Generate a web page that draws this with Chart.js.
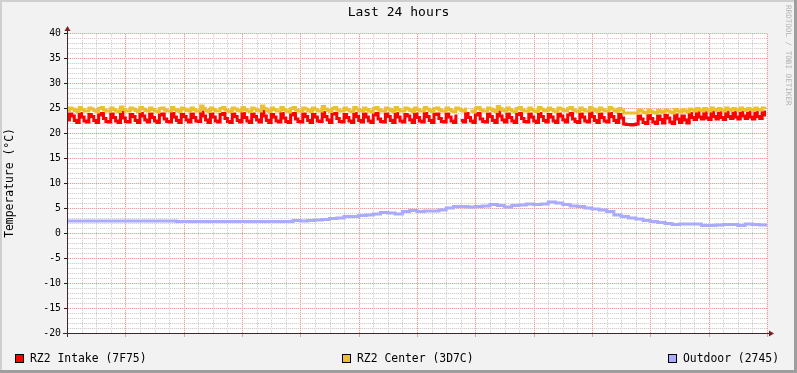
<!DOCTYPE html>
<html><head><meta charset="utf-8">
<script src="https://cdn.jsdelivr.net/npm/chart.js@4.4.0/dist/chart.umd.min.js"></script>
<style>html,body{margin:0;padding:0;background:#F2F2F2;}canvas{display:block;}</style>
</head><body>
<canvas id="c" width="797" height="373"></canvas>
<script>
// ---------- data ----------
const chartTitle = 'Last 24 hours';
const yAxisTitle = 'Temperature (°C)';
const watermark = 'RRDTOOL / TOBI OETIKER';
const seriesNames = ['RZ2 Intake (7F75)', 'RZ2 Center (3D7C)', 'Outdoor (2745)'];
const xTickHours = [0, 6, 12, 18];
const xTickLabels = ['Sat 00:00', 'Sat 06:00', 'Sat 12:00', 'Sat 18:00'];
const xMinorHours = 0.5, xMajorHours = 2;
const yMin = -20, yMax = 40, yMinorStep = 1, yLabelEvery = 5;
const sampleMinutes = 5;      // RZ2 sensors
const outdoorMinutes = 15;    // outdoor sensor

const intake = [
 22.6,23.8,23.4,22.5,22.1,23.9,23.2,22.4,22.2,23.7,23.3,22.5,
 22.1,23.6,23.9,22.9,22.3,22.2,23.8,23.1,22.4,22.1,24.1,23.0,
 22.3,22.2,23.7,23.3,22.5,22.1,23.9,23.4,22.6,22.2,23.8,23.1,
 22.4,22.1,23.6,23.8,22.8,22.3,22.2,23.9,23.2,22.5,22.1,23.7,
 23.3,22.6,22.2,23.8,23.1,22.4,22.3,24.2,23.4,22.6,22.1,23.8,
 23.2,22.4,22.2,23.7,23.9,22.9,22.3,22.1,23.8,23.3,22.5,22.2,
 23.9,23.1,22.4,22.1,23.8,23.3,22.6,22.2,24.3,23.4,22.5,22.1,
 23.7,23.2,22.4,22.2,23.9,23.0,22.3,22.1,23.6,23.9,22.8,22.3,
 22.2,23.8,23.3,22.5,22.1,23.7,23.2,22.4,22.3,24.1,23.3,22.6,
 22.1,23.8,23.9,22.9,22.3,22.2,23.7,23.1,22.4,22.1,23.9,23.3,
 22.5,22.2,23.8,23.2,22.4,22.1,23.6,23.9,22.8,22.3,22.2,23.8,
 23.3,22.5,22.1,23.9,23.2,22.4,22.2,23.7,23.4,22.6,22.1,23.8,
 23.1,22.4,22.2,23.9,23.3,22.5,22.1,23.7,23.8,22.9,22.3,22.2,
 23.8,23.2,22.4,22.1,23.7,null,22.5,22.2,23.9,23.1,22.4,22.1,
 23.6,23.9,22.8,22.3,22.2,23.8,23.3,22.5,22.1,24.2,23.4,22.6,
 22.2,23.8,23.1,22.4,22.1,23.7,23.9,22.9,22.3,22.2,23.8,23.2,
 22.4,22.1,23.9,23.3,22.5,22.2,23.7,23.2,22.4,22.1,23.8,23.4,
 22.6,22.2,23.6,23.9,22.8,22.3,22.1,23.8,23.2,22.4,22.2,24.0,
 23.3,22.5,22.1,23.8,23.1,22.4,22.2,23.9,23.3,22.5,22.1,23.7,
 23.0,21.8,21.7,21.7,21.6,21.7,21.8,23.4,22.8,22.1,21.9,23.5,
 22.9,22.2,21.9,23.4,22.7,22.0,23.5,23.0,22.2,21.9,23.6,22.8,
 22.1,23.4,22.6,22.0,23.9,23.1,22.7,24.2,23.2,22.8,24.1,23.0,
 22.7,24.3,23.3,22.8,24.2,23.1,22.7,24.4,23.3,22.9,24.2,23.2,
 22.8,24.3,23.4,22.9,24.1,23.2,22.8,24.3,23.3,22.9,24.2,23.3
];

const center = [
 24.5,25.0,24.8,24.5,24.3,25.1,24.7,24.4,24.4,25.0,24.8,24.5,
 24.3,24.9,25.1,24.6,24.4,24.4,25.0,24.7,24.4,24.3,25.2,24.7,
 24.4,24.4,25.0,24.8,24.5,24.3,25.1,24.8,24.5,24.4,25.0,24.7,
 24.4,24.3,24.9,25.0,24.6,24.4,24.4,25.1,24.7,24.5,24.3,25.0,
 24.8,24.5,24.4,25.0,24.7,24.4,24.4,25.4,24.9,24.5,24.3,25.0,
 24.7,24.4,24.4,24.9,25.1,24.6,24.4,24.3,25.0,24.8,24.5,24.4,
 25.1,24.7,24.4,24.3,25.0,24.8,24.5,24.4,25.4,24.9,24.5,24.3,
 25.0,24.7,24.4,24.4,25.1,24.7,24.4,24.3,24.9,25.1,24.6,24.4,
 24.4,25.0,24.8,24.5,24.3,25.0,24.7,24.4,24.4,25.3,24.8,24.5,
 24.3,24.9,25.1,24.6,24.4,24.4,25.0,24.7,24.4,24.3,25.1,24.8,
 24.5,24.4,25.0,24.7,24.4,24.3,24.9,25.1,24.6,24.4,24.4,25.0,
 24.8,24.5,24.3,25.1,24.7,24.4,24.4,25.0,24.8,24.5,24.3,25.0,
 24.7,24.4,24.4,25.1,24.8,24.5,24.3,24.9,25.0,24.6,24.4,24.4,
 25.0,24.7,24.4,24.3,25.0,24.8,24.5,24.4,25.1,null,24.4,24.3,
 24.9,25.1,24.6,24.4,24.4,25.0,24.8,24.5,24.3,25.3,24.9,24.5,
 24.4,25.0,24.7,24.4,24.3,24.9,25.1,24.6,24.4,24.4,25.0,24.7,
 24.4,24.3,25.1,24.8,24.5,24.4,25.0,24.7,24.4,24.3,25.0,24.8,
 24.5,24.4,24.9,25.1,24.6,24.4,24.3,25.0,24.7,24.4,24.4,25.1,
 24.8,24.5,24.3,25.0,24.7,24.4,24.4,25.1,24.8,24.5,24.3,24.9,
 24.6,24.0,24.0,24.0,24.0,24.0,24.0,24.6,24.4,24.1,24.0,24.6,
 24.3,24.1,24.0,24.5,24.3,24.1,24.6,24.4,24.2,24.0,24.7,24.4,
 24.2,24.6,24.4,24.2,24.8,24.6,24.4,24.9,24.6,24.4,24.9,24.6,
 24.4,25.0,24.7,24.5,24.9,24.6,24.4,25.0,24.7,24.5,24.9,24.7,
 24.5,25.0,24.7,24.5,24.9,24.7,24.5,25.0,24.7,24.6,25.0,24.8
];

const outdoor = [
 2.4,2.4,2.4,2.4,2.4,2.4,2.4,2.4,2.4,2.4,2.4,2.4,2.4,2.4,2.4,
 2.3,2.3,2.3,2.3,2.3,2.3,2.3,2.3,2.3,2.3,2.3,2.3,2.3,2.3,2.3,2.3,
 2.5,2.4,2.5,2.6,2.7,2.9,3.0,3.3,3.3,3.5,3.6,3.8,4.1,4.0,3.8,4.3,
 4.5,4.3,4.4,4.4,4.6,5.0,5.3,5.3,5.2,5.3,5.4,5.7,5.5,5.2,5.5,5.6,
 5.8,5.7,5.8,6.2,6.0,5.7,5.4,5.3,5.0,4.8,4.6,4.3,3.6,3.3,3.0,2.8,
 2.5,2.3,2.1,1.9,1.7,1.8,1.8,1.8,1.5,1.5,1.6,1.7,1.7,1.5,1.8,1.7,
 1.6,1.5
];

// ---------- style ----------
const FONT = "'DejaVu Sans Mono', monospace";
const COLORS = ['#FF0000', '#EAC22E', '#AAAAFF'];
// dotted grid: [dot colour, gap colour]
const GRID = ['#D0D0D0', '#F3F3F3'];
const MGRID = ['#EC9E9E', '#FBE3E3'];

const toXY = (arr, stepMin) => arr.map((v, i) => ({ x: i * stepMin / 60, y: v }));
const near = (v, every) => Math.abs(v / every - Math.round(v / every)) < 1e-6;

const rrdPlugin = {
  id: 'rrd',
  beforeDraw(chart) {
    const { ctx, chartArea: a } = chart;
    const W = chart.width, H = chart.height;
    ctx.save();
    ctx.fillStyle = '#F2F2F2'; ctx.fillRect(0, 0, W, H);
    ctx.fillStyle = '#CFCFCF'; ctx.fillRect(0, 0, W, 2); ctx.fillRect(0, 0, 2, H);
    ctx.fillStyle = '#9E9E9E'; ctx.fillRect(0, H - 3, W, 3); ctx.fillRect(W - 3, 0, 3, H);
    ctx.fillStyle = '#FFFFFF'; ctx.fillRect(a.left, a.top, a.right - a.left, a.bottom - a.top);
    ctx.restore();
  },
  beforeDatasetsDraw(chart) {
    // dotted grid drawn from the chart's own scales
    const { ctx, chartArea: a, scales: { x: xs, y: ys } } = chart;
    ctx.save();
    const L = Math.round(a.left), R = Math.round(a.right), T = Math.round(a.top), B = Math.round(a.bottom);
    [false, true].forEach(major => {
      const pal = major ? MGRID : GRID;
      for (let h = xs.min; h <= xs.max + 1e-9; h += xMinorHours) {
        if (near(h, xMajorHours) !== major) continue;
        const px = Math.round(xs.getPixelForValue(h));
        for (let py = T; py < B; py++) { ctx.fillStyle = pal[py % 2]; ctx.fillRect(px, py, 1, 1); }
      }
      for (let v = ys.min; v <= ys.max + 1e-9; v += yMinorStep) {
        if (near(v, yLabelEvery) !== major) continue;
        const py = Math.round(ys.getPixelForValue(v));
        for (let px = L; px < R; px++) { ctx.fillStyle = pal[px % 2]; ctx.fillRect(px, py, 1, 1); }
      }
    });
    // tick marks
    ctx.fillStyle = MGRID[0];
    for (let h = xs.min; h <= xs.max + 1e-9; h += xMajorHours) {
      const px = Math.round(xs.getPixelForValue(h));
      ctx.fillRect(px, B + 1, 1, 3);
    }
    ctx.fillStyle = '#1F1F1F';
    for (let v = ys.min; v <= ys.max + 1e-9; v += yLabelEvery) {
      const py = Math.round(ys.getPixelForValue(v));
      ctx.fillRect(L - 3, py, 3, 1);
    }
    ctx.restore();
  },
  afterDraw(chart) {
    const { ctx, chartArea: a } = chart;
    const W = chart.width;
    ctx.save();
    // axes
    const L = Math.round(a.left), B = Math.round(a.bottom);
    ctx.fillStyle = '#3A2A2A';
    ctx.fillRect(L, a.top - 3, 1, B - a.top + 7);
    ctx.fillRect(L - 4, B, a.right - L + 7, 1);
    ctx.fillStyle = '#801F1F';
    const ax = L + 0.5, ay = B + 0.5;
    ctx.beginPath();
    ctx.moveTo(ax - 3, a.top - 2); ctx.lineTo(ax + 3, a.top - 2); ctx.lineTo(ax, a.top - 7); ctx.closePath(); ctx.fill();
    ctx.beginPath();
    ctx.moveTo(a.right + 2, ay - 3); ctx.lineTo(a.right + 2, ay + 3); ctx.lineTo(a.right + 7, ay); ctx.closePath(); ctx.fill();
    // title
    ctx.fillStyle = '#000';
    ctx.textBaseline = 'middle';
    ctx.textAlign = 'center';
    ctx.font = '13px ' + FONT;
    ctx.fillText(chartTitle, W / 2, 13);
    // y axis title
    ctx.save();
    ctx.translate(10.5, (a.top + a.bottom) / 2);
    ctx.rotate(-Math.PI / 2);
    ctx.font = '11.4px ' + FONT;
    ctx.fillText(yAxisTitle, 0, 0);
    ctx.restore();
    // watermark
    ctx.save();
    ctx.translate(788, 5);
    ctx.rotate(Math.PI / 2);
    ctx.textAlign = 'left';
    ctx.fillStyle = '#B4B4B4';
    ctx.font = '7.6px ' + FONT;
    ctx.fillText(watermark, 0, 0);
    ctx.restore();
    // legend
    const legendX = [15, 342, 668];
    ctx.font = '11.4px ' + FONT;
    ctx.textAlign = 'left';
    seriesNames.forEach((name, i) => {
      const x = legendX[i], y = 354;
      ctx.fillStyle = COLORS[i];
      ctx.fillRect(x, y, 9, 9);
      ctx.strokeStyle = '#000'; ctx.lineWidth = 1;
      ctx.strokeRect(x + 0.5, y + 0.5, 8, 8);
      ctx.fillStyle = '#000';
      ctx.fillText(name, x + 15, y + 5);
    });
    ctx.restore();
  }
};

const line = (data, color, order) => ({
  data, borderColor: color, backgroundColor: color, borderWidth: 3,
  pointRadius: 0, stepped: true, tension: 0, fill: false, spanGaps: false, order,
  borderJoinStyle: 'miter', borderCapStyle: 'butt'
});

new Chart(document.getElementById('c'), {
  type: 'line',
  data: {
    datasets: [
      line(toXY(intake, sampleMinutes), COLORS[0], 3),
      line(toXY(center, sampleMinutes), COLORS[1], 2),
      line(toXY(outdoor, outdoorMinutes), COLORS[2], 1)
    ]
  },
  options: {
    responsive: false, animation: false, devicePixelRatio: 1,
    layout: { padding: { top: 33, left: 0, right: 30, bottom: 40 } },
    plugins: { legend: { display: false }, title: { display: false }, tooltip: { enabled: false } },
    scales: {
      x: {
        type: 'linear', min: 0, max: 24,
        afterFit(s) { s.height = 0; s.paddingLeft = 0; s.paddingRight = 0; },
        ticks: {
          stepSize: 6, autoSkip: false, maxRotation: 0, padding: 3,
          color: '#000', font: { family: FONT, size: 9.8 },
          callback: v => { const k = xTickHours.indexOf(v); return k >= 0 ? xTickLabels[k] : ''; }
        },
        grid: { drawOnChartArea: false, drawTicks: false },
        border: { display: false }
      },
      y: {
        type: 'linear', min: yMin, max: yMax,
        afterFit(s) { s.width = 67; s.paddingTop = 0; s.paddingBottom = 0; },
        ticks: {
          stepSize: yLabelEvery, autoSkip: false, padding: 6,
          color: '#000', font: { family: FONT, size: 9.8 },
          callback: v => String(v)
        },
        grid: { drawOnChartArea: false, drawTicks: false },
        border: { display: false }
      }
    }
  },
  plugins: [rrdPlugin]
});
</script>
</body></html>
